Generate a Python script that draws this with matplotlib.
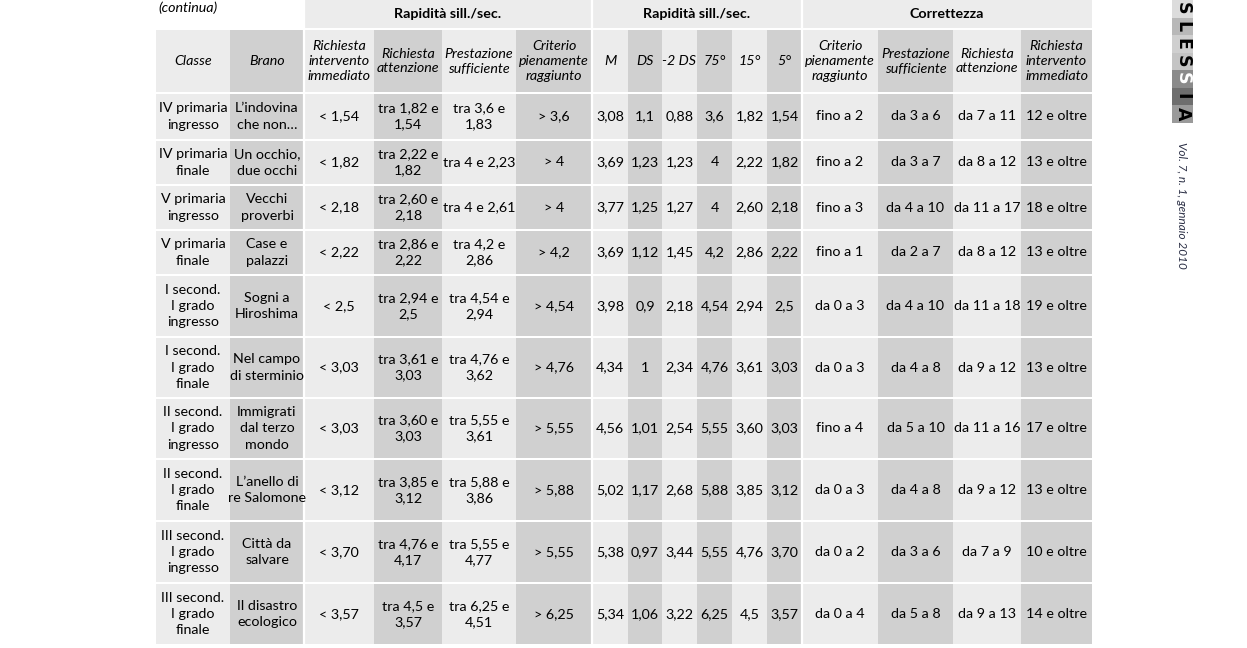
import matplotlib.pyplot as plt
from matplotlib.patches import Rectangle

plt.rcParams['font.family'] = ['Lato', 'DejaVu Sans']

# Table content
classe = ["IV primaria\ningresso", "IV primaria\nfinale", "V primaria\ningresso",
          "V primaria\nfinale", "I second.\nI grado\ningresso", "I second.\nI grado\nfinale",
          "II second.\nI grado\ningresso", "II second.\nI grado\nfinale",
          "III second.\nI grado\ningresso", "III second.\nI grado\nfinale"]
brano = ["L’indovina\nche non…", "Un occhio,\ndue occhi", "Vecchi\nproverbi", "Case e\npalazzi",
         "Sogni a\nHiroshima", "Nel campo\ndi sterminio", "Immigrati\ndal terzo\nmondo",
         "L’anello di\nre Salomone", "Città da\nsalvare", "Il disastro\necologico"]
rich_int = ["< 1,54", "< 1,82", "< 2,18", "< 2,22", "< 2,5", "< 3,03", "< 3,03", "< 3,12",
            "< 3,70", "< 3,57"]
rich_att = ["tra 1,82 e\n1,54", "tra 2,22 e\n1,82", "tra 2,60 e\n2,18", "tra 2,86 e\n2,22",
            "tra 2,94 e\n2,5", "tra 3,61 e\n3,03", "tra 3,60 e\n3,03", "tra 3,85 e\n3,12",
            "tra 4,76 e\n4,17", "tra 4,5 e\n3,57"]
prest = ["tra 3,6 e\n1,83", "tra 4 e 2,23", "tra 4 e 2,61", "tra 4,2 e\n2,86", "tra 4,54 e\n2,94",
         "tra 4,76 e\n3,62", "tra 5,55 e\n3,61", "tra 5,88 e\n3,86", "tra 5,55 e\n4,77",
         "tra 6,25 e\n4,51"]
crit = ["> 3,6", "> 4", "> 4", "> 4,2", "> 4,54", "> 4,76", "> 5,55", "> 5,88", "> 5,55", "> 6,25"]
media = ["3,08", "3,69", "3,77", "3,69", "3,98", "4,34", "4,56", "5,02", "5,38", "5,34"]
ds = ["1,1", "1,23", "1,25", "1,12", "0,9", "1", "1,01", "1,17", "0,97", "1,06"]
meno2ds = ["0,88", "1,23", "1,27", "1,45", "2,18", "2,34", "2,54", "2,68", "3,44", "3,22"]
p75 = ["3,6", "4", "4", "4,2", "4,54", "4,76", "5,55", "5,88", "5,55", "6,25"]
p15 = ["1,82", "2,22", "2,60", "2,86", "2,94", "3,61", "3,60", "3,85", "4,76", "4,5"]
p5 = ["1,54", "1,82", "2,18", "2,22", "2,5", "3,03", "3,03", "3,12", "3,70", "3,57"]
corr_crit = ["fino a 2", "fino a 2", "fino a 3", "fino a 1", "da 0 a 3", "da 0 a 3", "fino a 4",
             "da 0 a 3", "da 0 a 2", "da 0 a 4"]
corr_prest = ["da 3 a 6", "da 3 a 7", "da 4 a 10", "da 2 a 7", "da 4 a 10", "da 4 a 8",
              "da 5 a 10", "da 4 a 8", "da 3 a 6", "da 5 a 8"]
corr_att = ["da 7 a 11", "da 8 a 12", "da 11 a 17", "da 8 a 12", "da 11 a 18", "da 9 a 12",
            "da 11 a 16", "da 9 a 12", "da 7 a 9", "da 9 a 13"]
corr_int = ["12 e oltre", "13 e oltre", "18 e oltre", "13 e oltre", "19 e oltre", "13 e oltre",
            "17 e oltre", "13 e oltre", "10 e oltre", "14 e oltre"]

col_headers = ["Classe", "Brano", "Richiesta\nintervento\nimmediato", "Richiesta\nattenzione",
               "Prestazione\nsufficiente", "Criterio\npienamente\nraggiunto", "M", "DS", "-2 DS",
               "75°", "15°", "5°", "Criterio\npienamente\nraggiunto", "Prestazione\nsufficiente",
               "Richiesta\nattenzione", "Richiesta\nintervento\nimmediato"]
group_headers = ["Rapidità sill./sec.", "Rapidità sill./sec.", "Correttezza"]
group_spans = [(2, 6), (6, 12), (12, 16)]

columns = [classe, brano, rich_int, rich_att, prest, crit, media, ds, meno2ds, p75, p15, p5,
           corr_crit, corr_prest, corr_att, corr_int]

# Layout (pixels)
col_edges = [156, 230, 304, 374, 442, 516, 592, 628, 662, 697, 732, 767, 802, 878, 953, 1021, 1092]
row_heights = [45, 43, 43, 43, 60, 59, 59, 60, 60, 60]
gap = 2
light, dark = "#ececec", "#d0d0d0"
dark_cols = {1, 3, 5, 7, 9, 11, 13, 15}
group_lines = [304, 592, 802]

fig = plt.figure(figsize=(12.47, 6.48), dpi=100)
ax = fig.add_axes([0, 0, 1, 1])
ax.set_xlim(0, 1247)
ax.set_ylim(648, 0)
ax.axis("off")

fs = 10.3
ls = 1.42

# group header row
for (a, b), label in zip(group_spans, group_headers):
    x0, x1 = col_edges[a], col_edges[b]
    ax.add_patch(Rectangle((x0, -5), x1 - x0, 33, color=light, lw=0))
    ax.text((x0 + x1) / 2, 14, label, ha="center", va="center", fontsize=fs, fontweight="bold")

ax.text(158, 1, "(continua)", ha="left", va="top", fontsize=fs, style="italic")

# column header row
y0, h = 30, 62
for j, label in enumerate(col_headers):
    x0, x1 = col_edges[j], col_edges[j + 1]
    ax.add_patch(Rectangle((x0, y0), x1 - x0, h, color=dark if j in dark_cols else light, lw=0))
    ax.text((x0 + x1) / 2, y0 + h / 2, label, ha="center", va="center", fontsize=fs,
            style="italic", linespacing=1.3)

# data rows
y = 94
for i, rh in enumerate(row_heights):
    for j, col in enumerate(columns):
        x0, x1 = col_edges[j], col_edges[j + 1]
        ax.add_patch(Rectangle((x0, y), x1 - x0, rh, color=dark if j in dark_cols else light, lw=0))
        ax.text((x0 + x1) / 2, y + rh / 2, col[i], ha="center", va="center", fontsize=fs,
                linespacing=ls)
    y += rh + gap

# white separators between column groups
for gx in group_lines:
    ax.plot([gx, gx], [-5, y], color="white", lw=1.6)

# journal mark on the right
logo_letters = ["S", "L", "E", "S", "S", "I", "A"]
logo_bg = ["#dcdcdc", "#b8b8b8", "#cfcfcf", "#c4c4c4", "#8a8a8a", "#6e6e6e", "#9a9a9a"]
logo_fg = ["black", "black", "black", "black", "white", "black", "black"]
ly = 0
for letter, bg, fg in zip(logo_letters, logo_bg, logo_fg):
    ax.add_patch(Rectangle((1172, ly), 21, 17.5, color=bg, lw=0))
    ax.text(1182.5, ly + 8.75, letter, ha="center", va="center", rotation=-90,
            fontsize=12.5, fontweight="heavy", color=fg, family="DejaVu Sans")
    ly += 17.5

ax.text(1181, 205, "Vol. 7, n. 1, gennaio 2010", ha="center", va="center", rotation=-90,
        fontsize=8.5, style="italic", color="#2b2f45")

fig.savefig("out.png", dpi=100)
